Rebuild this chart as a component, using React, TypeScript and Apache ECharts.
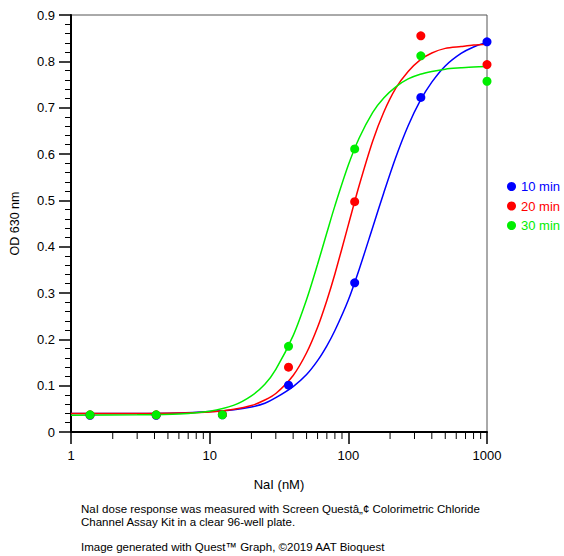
import React, { useEffect, useRef } from "react";
import * as echarts from "echarts";

const concentrations = [1.372, 4.115, 12.35, 37.04, 111.1, 333.3, 1000];
const od10 = [0.036, 0.036, 0.037, 0.101, 0.322, 0.722, 0.842];
const od20 = [0.037, 0.037, 0.038, 0.14, 0.497, 0.855, 0.793];
const od30 = [0.037, 0.037, 0.037, 0.185, 0.611, 0.812, 0.757];

const curveX = [1, 3, 6, 10, 15, 20, 25, 30, 40, 50, 60, 70, 80, 100, 120, 150, 180, 220, 270, 330, 400, 500, 650, 800, 1000];
const fit10 = [0.04, 0.04, 0.041, 0.044, 0.048, 0.054, 0.062, 0.074, 0.098, 0.124, 0.154, 0.186, 0.219, 0.285, 0.352, 0.442, 0.516, 0.593, 0.661, 0.715, 0.755, 0.79, 0.817, 0.831, 0.841];
const fit20 = [0.04, 0.04, 0.041, 0.043, 0.049, 0.057, 0.069, 0.083, 0.122, 0.171, 0.226, 0.284, 0.341, 0.447, 0.533, 0.628, 0.69, 0.742, 0.778, 0.803, 0.818, 0.828, 0.832, 0.835, 0.837];
const fit30 = [0.036, 0.037, 0.039, 0.045, 0.058, 0.078, 0.103, 0.135, 0.208, 0.286, 0.362, 0.43, 0.488, 0.576, 0.635, 0.69, 0.721, 0.745, 0.762, 0.772, 0.778, 0.783, 0.786, 0.788, 0.789];

const seriesNames = ["10 min", "20 min", "30 min"];
const seriesColors = ["#0000ff", "#ff0000", "#00ee00"];
const xMinorTicks = [2, 3, 4, 5, 6, 7, 8, 9, 20, 30, 40, 50, 60, 70, 80, 90, 200, 300, 400, 500, 600, 700, 800, 900];

const xTitle = "NaI (nM)";
const yTitle = "OD 630 nm";
const notes = [
  "NaI dose response was measured with Screen Questâ„¢ Colorimetric Chloride",
  "Channel Assay Kit in a clear 96-well plate.",
  "Image generated with Quest™ Graph, ©2019 AAT Bioquest",
];

const FONT = '"Liberation Sans", Arial, sans-serif';

export default function App() {
  const ref = useRef<HTMLDivElement>(null);
  useEffect(() => {
    if (!ref.current) return;
    const chart = echarts.init(ref.current, undefined, { renderer: "svg" });
    const pts = [od10, od20, od30];
    const fits = [fit10, fit20, fit30];
    const lineSeries = fits.map((f, i) => ({
      name: seriesNames[i],
      type: "line",
      data: curveX.map((x, j) => [x, f[j]]),
      showSymbol: false,
      smooth: 0.3,
      lineStyle: { color: seriesColors[i], width: 1.5 },
      itemStyle: { color: seriesColors[i] },
      z: 3,
      silent: true,
    }));
    const scatterSeries = pts.map((p, i) => ({
      name: seriesNames[i],
      type: "scatter",
      data: concentrations.map((x, j) => [x, p[j]]),
      symbol: "circle",
      symbolSize: 9,
      itemStyle: { color: seriesColors[i], opacity: 1 },
      z: 5 + i,
    }));
    chart.setOption({
      animation: false,
      grid: {
        left: 71,
        top: 15,
        right: 77,
        bottom: 124,
        show: true,
        borderColor: "#555",
        borderWidth: 1,
        backgroundColor: "transparent",
      },
      legend: {
        orient: "vertical",
        left: 502,
        top: 175,
        icon: "circle",
        itemWidth: 9,
        itemHeight: 9,
        itemGap: 6.5,
        textStyle: { fontSize: 13, fontFamily: FONT },
        data: seriesNames.map((n, i) => ({ name: n, textStyle: { color: seriesColors[i] } })),
        selectedMode: false,
      },
      xAxis: {
        type: "log",
        logBase: 10,
        min: 1,
        max: 1000,
        name: xTitle,
        nameLocation: "middle",
        nameGap: 46,
        nameTextStyle: { color: "#000", fontSize: 13, fontFamily: FONT },
        axisLine: { lineStyle: { color: "#000", width: 2 } },
        axisTick: { show: true, inside: false, length: 12, lineStyle: { color: "#000", width: 1.5 } },
        minorTick: { show: false },
        axisLabel: {
          color: "#000",
          fontSize: 13,
          fontFamily: FONT,
          margin: 17,
          formatter: (v: number) => String(Math.round(v)),
        },
        splitLine: { show: false },
      },
      yAxis: {
        type: "value",
        min: 0,
        max: 0.9,
        interval: 0.1,
        name: yTitle,
        nameLocation: "middle",
        nameGap: 50,
        nameTextStyle: { color: "#000", fontSize: 12.5, fontFamily: FONT },
        axisLine: { show: true, lineStyle: { color: "#000", width: 2 } },
        axisTick: { show: true, inside: false, length: 12, lineStyle: { color: "#000", width: 1.5 } },
        minorTick: { show: true, splitNumber: 5, length: 6, lineStyle: { color: "#000", width: 1 } },
        axisLabel: {
          color: "#000",
          fontSize: 13,
          fontFamily: FONT,
          margin: 16,
          formatter: (v: number) => String(Math.round(v * 10) / 10),
        },
        splitLine: { show: false },
      },
      series: [
        ...lineSeries,
        ...scatterSeries,
        {
          type: "custom",
          coordinateSystem: "cartesian2d",
          clip: false,
          silent: true,
          data: xMinorTicks.map((v) => [v, 0]),
          renderItem: (_params: any, api: any) => {
            const p = api.coord([api.value(0), 0]);
            return {
              type: "line",
              shape: { x1: p[0], y1: p[1], x2: p[0], y2: p[1] + 7 },
              style: { stroke: "#000", lineWidth: 1 },
            };
          },
          z: 10,
        },
      ],
      graphic: notes.map((t, i) => ({
        type: "text",
        left: 81,
        top: i < 2 ? 503 + i * 13 : 541,
        style: { text: t, font: `11.5px ${FONT}`, fill: "#000" },
      })),
    });
    return () => chart.dispose();
  }, []);
  return <div ref={ref} style={{ width: 564, height: 556, position: "absolute", left: 0, top: 0 }} />;
}
